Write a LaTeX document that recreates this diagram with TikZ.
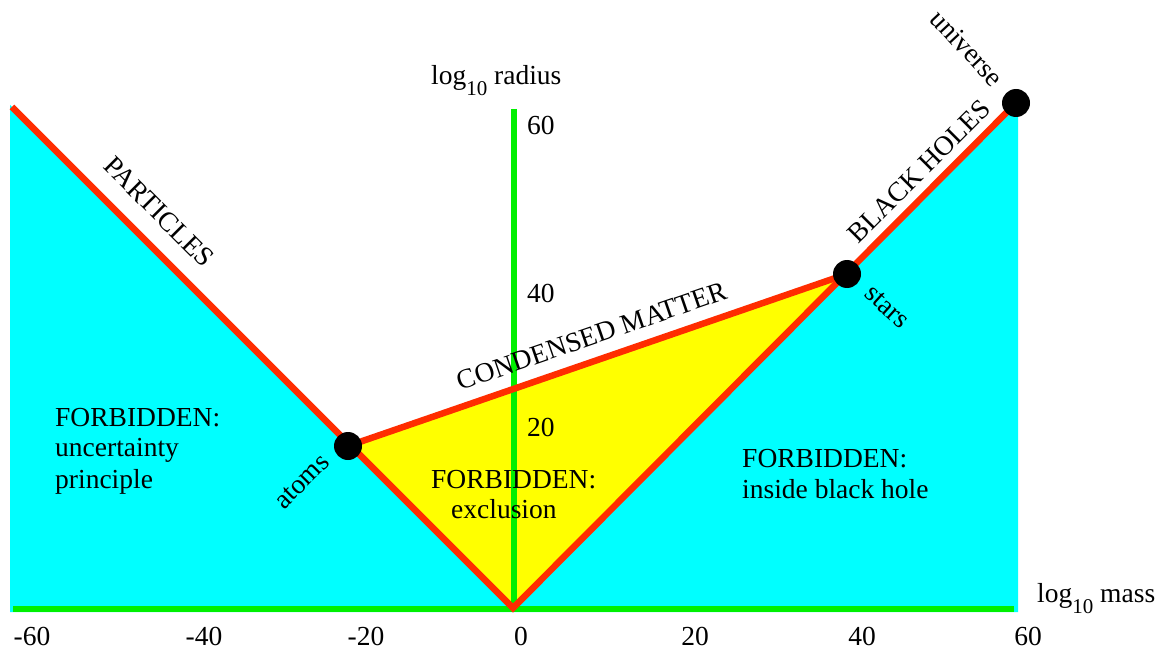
\documentclass[tikz,border=0pt]{standalone}
\usepackage{fontspec}
\setmainfont{Liberation Serif}
\definecolor{cyanfill}{RGB}{0,255,255}
\definecolor{yellowfill}{RGB}{255,255,0}
\definecolor{redline}{RGB}{255,45,0}
\definecolor{greenaxis}{RGB}{0,240,0}
\newcommand{\subten}{\raisebox{-11pt}{\fontsize{21}{21}\selectfont 10}}
\begin{document}
\begin{tikzpicture}[x=1pt,y=-1pt,
  font=\fontsize{27.5}{31}\selectfont,
  lbl/.style={inner sep=0pt, anchor=base west},
  tick/.style={inner sep=0pt, anchor=base},
  rlbl/.style={inner sep=0pt, anchor=center},
  dotnode/.style={circle, fill=black, minimum size=28pt, inner sep=0pt},
  redstroke/.style={draw=redline, line width=6.5pt, line join=miter},
  axisstroke/.style={draw=greenaxis, line width=6pt}]
\useasboundingbox (0,0) rectangle (1161,652);
% key points
\coordinate (tl) at (12,107);
\coordinate (v) at (513,608);
\coordinate (bl) at (10,612);
\coordinate (br) at (1018,612);
\coordinate (u) at (1016,103);
\coordinate (ytop) at (514,109);
\coordinate (ybot) at (514,609);
\coordinate (xl) at (13,609);
\coordinate (xr) at (1014,609);
\coordinate (a) at (348,446);
\coordinate (s) at (847,274);
% regions
\fill[cyanfill] (10,105) -- (v) -- (513,612) -- (bl) -- cycle;
\fill[cyanfill] (v) -- (u) -- (1018,103) -- (br) -- (513,612) -- cycle;
\fill[yellowfill] (a) -- (s) -- (v) -- cycle;
% axes
\draw[axisstroke] (xl) -- (xr);
\draw[axisstroke] (ytop) -- (ybot);
% red boundaries
\draw[redstroke] (tl) -- (v) -- (u);
\draw[redstroke] (a) -- (s);
% dots
\node[dotnode] (atoms) at (a) {};
\node[dotnode] (stars) at (s) {};
\node[dotnode] (universe) at (u) {};
% axis labels
\node[lbl] (ylabel) at (431,85) {log\subten{} radius};
\node[lbl] (xlabel) at (1037,602) {log\subten{} mass};
\node[lbl] (y60) at (527,135) {60};
\node[lbl] (y40) at (527,302) {40};
\node[lbl] (y20) at (527,436) {20};
\node[tick] (xm60) at (32,645) {-60};
\node[tick] (xm40) at (204,645) {-40};
\node[tick] (xm20) at (366,645) {-20};
\node[tick] (x0) at (521,645) {0};
\node[tick] (x20) at (695,645) {20};
\node[tick] (x40) at (862,645) {40};
\node[tick] (x60) at (1028,645) {60};
% region texts
\node[lbl] (fl1) at (55,426) {FORBIDDEN:};
\node[lbl] (fl2) at (55,456) {uncertainty};
\node[lbl] (fl3) at (55,488) {principle};
\node[lbl] (fc1) at (431,488) {FORBIDDEN:};
\node[lbl] (fc2) at (451,518) {exclusion};
\node[lbl] (fr1) at (742,467) {FORBIDDEN:};
\node[lbl] (fr2) at (742,498) {inside black hole};
% rotated labels
\node[rlbl, rotate=-45] (particles) at (159,212) {PARTICLES};
\node[rlbl, rotate=45] (blackholes) at (919,171) {BLACK HOLES};
\node[rlbl, rotate=19] (condensed) at (592,336) {CONDENSED MATTER};
\node[rlbl, rotate=-47] (universelbl) at (967,48) {universe};
\node[rlbl, rotate=-42] (starslbl) at (887,307) {stars};
\node[rlbl, rotate=45] (atomslbl) at (302,482) {atoms};
\end{tikzpicture}
\end{document}
